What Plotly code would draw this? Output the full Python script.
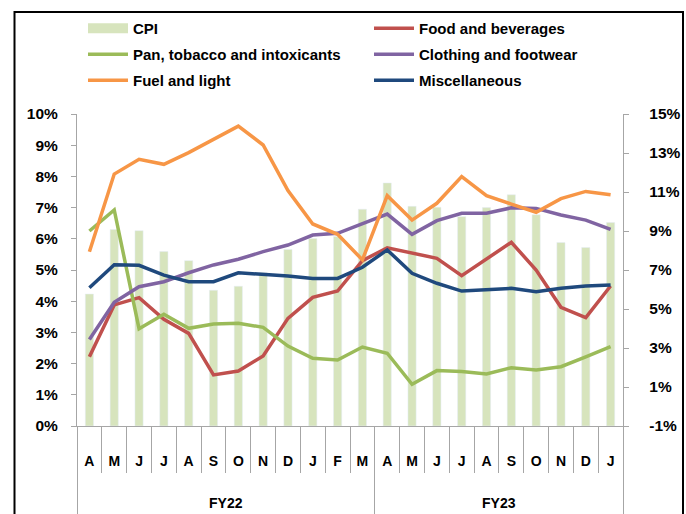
import plotly.graph_objects as go

periods = ["Apr-21", "May-21", "Jun-21", "Jul-21", "Aug-21", "Sep-21", "Oct-21", "Nov-21",
           "Dec-21", "Jan-22", "Feb-22", "Mar-22", "Apr-22", "May-22", "Jun-22", "Jul-22",
           "Aug-22", "Sep-22", "Oct-22", "Nov-22", "Dec-22", "Jan-23"]
months = ["A", "M", "J", "J", "A", "S", "O", "N", "D", "J", "F", "M",
          "A", "M", "J", "J", "A", "S", "O", "N", "D", "J"]
fiscal_years = ["FY22"] * 12 + ["FY23"] * 10

left_ticks = [0, 1, 2, 3, 4, 5, 6, 7, 8, 9, 10]
left_labels = ["0%", "1%", "2%", "3%", "4%", "5%", "6%", "7%", "8%", "9%", "10%"]
right_ticks = [-1, 1, 3, 5, 7, 9, 11, 13, 15]
right_labels = ["-1%", "1%", "3%", "5%", "7%", "9%", "11%", "13%", "15%"]

cpi = [4.23, 6.30, 6.26, 5.59, 5.30, 4.35, 4.48, 4.91, 5.66, 6.01, 6.07, 6.95,
       7.79, 7.04, 7.01, 6.71, 7.00, 7.41, 6.77, 5.88, 5.72, 6.52]
food = [2.55, 5.21, 5.58, 4.47, 3.75, 1.62, 1.82, 2.59, 4.52, 5.60, 5.92, 7.48,
        8.14, 7.85, 7.60, 6.71, 7.56, 8.42, 7.00, 5.09, 4.56, 6.18]
pan = [9.00, 10.08, 3.99, 4.73, 4.01, 4.23, 4.27, 4.06, 3.10, 2.47, 2.38, 3.05,
       2.73, 1.14, 1.84, 1.79, 1.67, 1.99, 1.87, 2.04, 2.55, 3.07]
clothing = [3.44, 5.34, 6.14, 6.40, 6.86, 7.26, 7.55, 7.94, 8.28, 8.79, 8.88, 9.39,
            9.87, 8.83, 9.53, 9.91, 9.91, 10.19, 10.16, 9.82, 9.56, 9.08]
fuel = [7.94, 11.92, 12.68, 12.42, 13.02, 13.70, 14.38, 13.41, 11.07, 9.36, 8.83, 7.52,
        10.81, 9.56, 10.42, 11.79, 10.81, 10.38, 9.96, 10.66, 11.03, 10.86]
misc = [6.09, 7.27, 7.24, 6.74, 6.40, 6.40, 6.86, 6.78, 6.69, 6.57, 6.57, 7.14,
        8.03, 6.83, 6.32, 5.92, 5.97, 6.06, 5.89, 6.06, 6.18, 6.23]

FONT = "Liberation Sans, Arial, sans-serif"
AX = "#a6a6a6"
n = len(periods)
NBSP = "\u00a0"

# category boundaries (month separators) and fiscal-year boundaries / centres
fy_names = []
fy_start = []
for i, fy in enumerate(fiscal_years):
    if not fy_names or fy_names[-1] != fy:
        fy_names.append(fy)
        fy_start.append(i)
fy_end = fy_start[1:] + [n]
fy_bounds = [s - 0.5 for s in fy_start] + [n - 0.5]
month_bounds = [i + 0.5 for i in range(n - 1) if (i + 0.5) not in fy_bounds]

fig = go.Figure()
fig.add_trace(go.Bar(x=periods, y=cpi, name="CPI", marker_color="#d7e4bd", width=0.33,
                     showlegend=False, yaxis="y"))
# legend swatch for CPI (wide rectangle like the original)
fig.add_trace(go.Scatter(x=[None], y=[None], name="CPI", mode="lines",
                         line=dict(color="#d7e4bd", width=13), legend="legend",
                         legendgroup="CPI", yaxis="y"))

lines = [
    ("Food and beverages", food, "#c0504d", "legend2"),
    ("Pan, tobacco and intoxicants", pan, "#9bbb59", "legend"),
    ("Clothing and footwear", clothing, "#8064a2", "legend2"),
    ("Fuel and light", fuel, "#f79646", "legend"),
    ("Miscellaneous", misc, "#1f497d", "legend2"),
]
for name, vals, col, lg in lines:
    fig.add_trace(go.Scatter(x=periods, y=vals, name=name, mode="lines",
                             line=dict(color=col, width=3.5), yaxis="y2",
                             legend=lg, legendgroup=name))

# empty helper traces so the separator axes get drawn
for ax_id in ["x2", "x3"]:
    fig.add_trace(go.Scatter(x=[], y=[], xaxis=ax_id, yaxis="y", showlegend=False,
                             hoverinfo="skip", mode="lines"))

legend_common = dict(font=dict(family=FONT, size=15, color="black", weight="bold"),
                     xanchor="left", yanchor="top",
                     itemwidth=40, tracegroupgap=3.5, bgcolor="rgba(0,0,0,0)",
                     traceorder="grouped")

for fy, s, e in zip(fy_names, fy_start, fy_end):
    fig.add_annotation(x=(s + e - 1) / 2, xref="x", y=(426 - 503) / 312, yref="paper",
                       text=fy, showarrow=False, yanchor="middle",
                       font=dict(family=FONT, size=14, color="black", weight="bold"))

tickfont = dict(family=FONT, size=15.5, color="black", weight="bold")
sep_axis = dict(overlaying="x", anchor="y", side="bottom", type="linear",
                range=[-0.5, n - 0.5], tickmode="array", ticks="outside",
                tickcolor=AX, tickwidth=1, showticklabels=False, showline=False,
                showgrid=False, zeroline=False)
fig.update_layout(
    width=686, height=514,
    margin=dict(l=77, r=63, t=114, b=88, autoexpand=False),
    plot_bgcolor="white", paper_bgcolor="white",
    font=dict(family=FONT, color="black"),
    hovermode=False,
    legend=dict(x=(83 - 77) / 546, y=(426 - 12) / 312, **legend_common),
    legend2=dict(x=(369 - 77) / 546, y=(426 - 12) / 312, **legend_common),
    xaxis=dict(type="category", range=[-0.5, n - 0.5], tickmode="array",
               tickvals=periods, ticktext=months, ticks="", showline=True,
               linecolor=AX, linewidth=1, showgrid=False, ticklabelstandoff=22,
               tickfont=dict(family=FONT, size=14, color="black", weight="bold")),
    xaxis2=dict(tickvals=month_bounds, ticklen=46, **sep_axis),
    xaxis3=dict(tickvals=fy_bounds, ticklen=90, **sep_axis),
    yaxis=dict(range=[0, 10], tickmode="array", tickvals=left_ticks, ticktext=left_labels,
               ticks="outside", ticklen=5, tickcolor=AX, showline=True, linecolor=AX,
               showgrid=False, zeroline=False, ticklabelstandoff=10, tickfont=tickfont),
    yaxis2=dict(range=[-1, 15], tickmode="array", tickvals=right_ticks,
                ticktext=[NBSP * 4 + t for t in right_labels], ticks="outside", ticklen=5,
                tickcolor=AX, showline=True, linecolor=AX, showgrid=False, zeroline=False,
                overlaying="y", side="right", tickfont=tickfont),
)

# open-bottom frame around the chart
fig.add_shape(type="rect", xref="paper", yref="paper",
              x0=(14.5 - 77) / 546, x1=(683 - 77) / 546,
              y0=(426 - 560) / 312, y1=(426 - 12) / 312,
              line=dict(color="black", width=2), fillcolor="rgba(0,0,0,0)", layer="below")

fig.write_html("out.html", config={"displayModeBar": False},
               post_script="document.body.style.margin='0';document.body.style.overflow='hidden';")
